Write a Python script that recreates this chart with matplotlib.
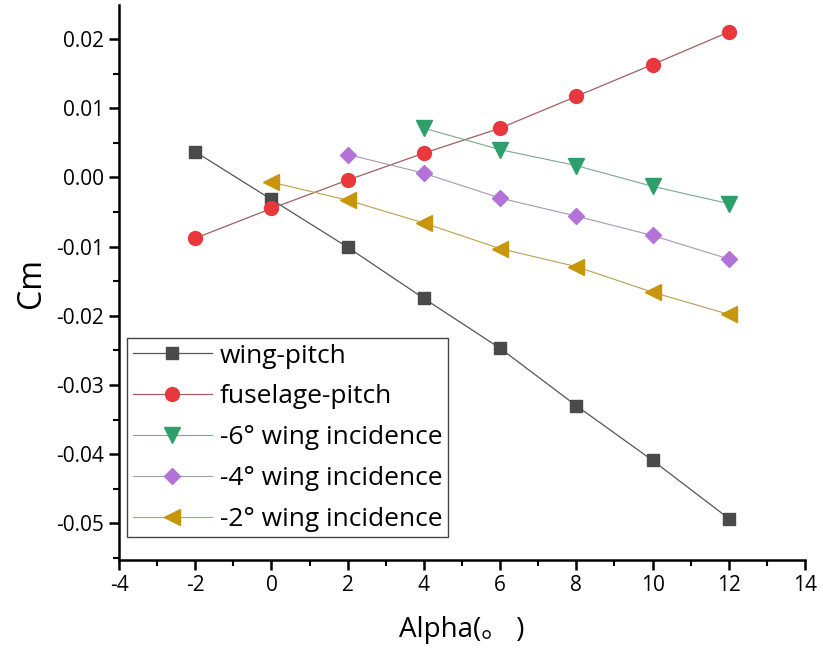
import matplotlib
matplotlib.use("Agg")
import matplotlib.pyplot as plt
from matplotlib.ticker import MultipleLocator, FuncFormatter

plt.rcParams['font.family'] = ['Open Sans', 'DejaVu Sans', 'Noto Sans CJK SC']
plt.rcParams['axes.unicode_minus'] = False

alpha_wing = [-2, 0, 2, 4, 6, 8, 10, 12]
cm_wing = [0.0037, -0.0032, -0.0101, -0.0175, -0.0247, -0.0330, -0.0409, -0.0493]

alpha_fus = [-2, 0, 2, 4, 6, 8, 10, 12]
cm_fus = [-0.0088, -0.0045, -0.0004, 0.0035, 0.0071, 0.0117, 0.0163, 0.0210]

alpha_m6 = [4, 6, 8, 10, 12]
cm_m6 = [0.0071, 0.0040, 0.0017, -0.0013, -0.0038]

alpha_m4 = [2, 4, 6, 8, 10, 12]
cm_m4 = [0.0033, 0.0006, -0.0030, -0.0056, -0.0084, -0.0118]

alpha_m2 = [0, 2, 4, 6, 8, 10, 12]
cm_m2 = [-0.0007, -0.0033, -0.0066, -0.0103, -0.0129, -0.0166, -0.0198]

labels = ["wing-pitch", "fuselage-pitch", "-6\u00b0 wing incidence",
          "-4\u00b0 wing incidence", "-2\u00b0 wing incidence"]

fig = plt.figure(figsize=(8.23, 6.54), dpi=100)
ax = fig.add_axes([0.1446, 0.1437, 0.8335, 0.8486])

ax.plot(alpha_wing, cm_wing, color='#555555', lw=0.9, marker='s', ms=9,
        mfc='#4a4a4a', mec='#4a4a4a', label=labels[0])
ax.plot(alpha_fus, cm_fus, color='#a06060', lw=0.9, marker='o', ms=10,
        mfc='#e8383d', mec='#e8383d', label=labels[1])
ax.plot(alpha_m6, cm_m6, color='#7aa890', lw=0.8, marker='v', ms=11,
        mfc='#2e9e6a', mec='#2e9e6a', label=labels[2])
ax.plot(alpha_m4, cm_m4, color='#a898b0', lw=0.8, marker='D', ms=8,
        mfc='#b272d8', mec='#b272d8', label=labels[3])
ax.plot(alpha_m2, cm_m2, color='#b8a050', lw=0.8, marker='<', ms=11,
        mfc='#c8960c', mec='#c8960c', label=labels[4])

ax.set_xlim(-4, 14)
ax.set_ylim(-0.0553, 0.0249)
ax.xaxis.set_major_locator(MultipleLocator(2))
ax.xaxis.set_minor_locator(MultipleLocator(1))
ax.yaxis.set_major_locator(MultipleLocator(0.01))
ax.yaxis.set_minor_locator(MultipleLocator(0.005))
ax.yaxis.set_major_formatter(FuncFormatter(lambda v, p: f"{round(v, 4) + 0.0:.2f}"))

for s in ['top', 'right']:
    ax.spines[s].set_visible(False)
for s in ['left', 'bottom']:
    ax.spines[s].set_linewidth(1.8)

ax.tick_params(which='major', direction='out', length=7, width=1.8, labelsize=15, pad=4)
ax.tick_params(which='minor', direction='out', length=4, width=1.5)

ax.set_xlabel("Alpha(\u3002 )", fontsize=20, labelpad=14)
ax.set_ylabel("Cm", fontsize=23, labelpad=6)

leg = ax.legend(loc='lower left', bbox_to_anchor=(0.012, 0.041), borderaxespad=0,
                fontsize=19, fancybox=False, framealpha=1, edgecolor='#444444',
                handlelength=3.0, handletextpad=0.3, labelspacing=0.6, borderpad=0.2)
leg.get_frame().set_linewidth(1.0)

fig.savefig("out.png", dpi=100)
